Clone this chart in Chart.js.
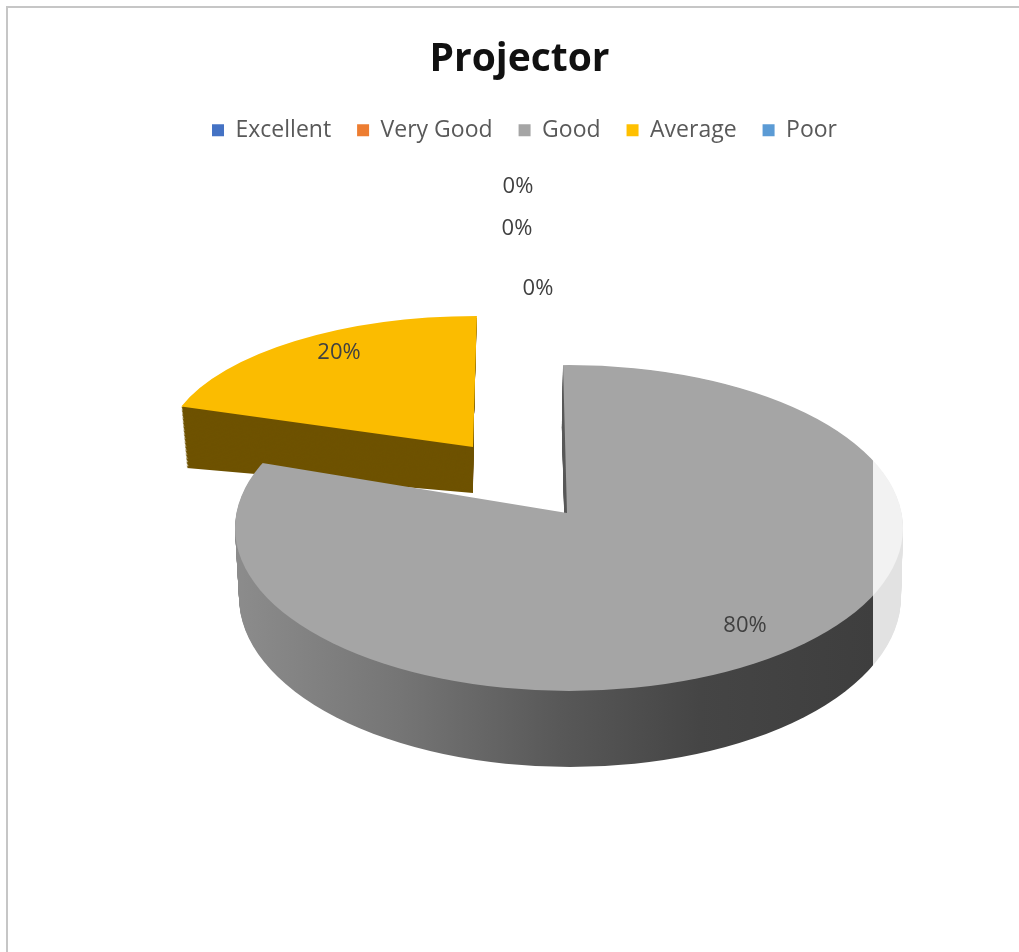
<!DOCTYPE html>
<html>
<head>
<meta charset="utf-8">
<title>Projector</title>
<script src="https://cdn.jsdelivr.net/npm/chart.js@4"></script>
<style>
  html, body { margin: 0; background: #fff; overflow: hidden; }
  #frame { position: absolute; left: 6px; top: 6px; width: 1013px; height: 946px;
           border-left: 2px solid #c6c6c6; border-top: 2px solid #c6c6c6; box-sizing: border-box; }
  canvas { position: absolute; left: 0; top: 0; }
</style>
</head>
<body>
<div id="frame"></div>
<canvas id="myChart" width="1019" height="952"></canvas>
<script>
'use strict';

const categories = ['Excellent', 'Very Good', 'Good', 'Average', 'Poor'];
const shares = [0, 0, 80, 20, 0];
const colors = ['#4472c4', '#ed7d31', '#a5a5a5', '#ffc000', '#5b9bd5'];

// where each percentage sits on the page (centre of the text)
const labelSpots = [[518, 187], [517, 229], [745, 626], [339, 353], [538, 289]];

// 3D look: each solid has a top and a bottom outline, walls are the layers in between
const goodTop = { apexX: 567, apexY: 513, sx: 400, sy: 203, lean: 0.027, rim: [569, 528, 334, 163] };
const goodBottom = { apexX: 566, apexY: 582, sx: 400, sy: 203, lean: 0.027, rim: [570, 597, 331, 170] };
const avgTop = { apexX: 473, apexY: 447, sx: 308, sy: 131, lean: -0.03 };
const avgBottom = { apexX: 473, apexY: 493, sx: 301, sy: 81, lean: 0 };

const goodFace = '#a5a5a5';
const avgFace = '#fbbc00';
const avgWall = '#6e5200';
const wallStops = [[235, '#8c8c8c'], [400, '#757575'], [560, '#585858'], [700, '#454545'], [873, '#3e3e3e']];

function mix(a, b, t) {
  return a + (b - a) * t;
}

function between(a, b, t) {
  const out = { apexX: mix(a.apexX, b.apexX, t), apexY: mix(a.apexY, b.apexY, t),
                sx: mix(a.sx, b.sx, t), sy: mix(a.sy, b.sy, t), lean: mix(a.lean, b.lean, t) };
  if (a.rim) out.rim = a.rim.map((v, i) => mix(v, b.rim[i], t));
  return out;
}

// draws one arc of the chart squashed onto the page, optionally cut by its rim ellipse
function paintArc(ctx, arc, shape, fill) {
  const R = arc.outerRadius;
  const a = shape.sx / R, d = shape.sy / R, c = shape.lean * d;
  ctx.save();
  if (shape.rim) {
    ctx.beginPath();
    ctx.ellipse(shape.rim[0], shape.rim[1], shape.rim[2], shape.rim[3], 0, 0, Math.PI * 2);
    ctx.clip();
  }
  ctx.translate(shape.apexX, shape.apexY);
  ctx.transform(a, 0, c, d, 0, 0);
  ctx.translate(-arc.x, -arc.y);
  let style = fill;
  if (Array.isArray(fill)) {
    // horizontal on the page, whatever the squash does
    const n = a * a + c * c;
    const at = (px) => (px - shape.apexX) / n;
    const x0 = fill[0][0], x1 = fill[fill.length - 1][0];
    style = ctx.createLinearGradient(arc.x + at(x0) * a, arc.y + at(x0) * c,
                                     arc.x + at(x1) * a, arc.y + at(x1) * c);
    fill.forEach(s => style.addColorStop((s[0] - x0) / (x1 - x0), s[1]));
  }
  const ghost = Object.create(arc);
  ghost.options = Object.assign({}, arc.options, { backgroundColor: style });
  ghost.draw(ctx);
  ctx.restore();
}

function paintSolid(ctx, arc, top, bottom, wall, face) {
  const steps = Math.ceil(bottom.apexY - top.apexY);
  for (let i = steps; i > 0; i--) {
    paintArc(ctx, arc, between(top, bottom, i / steps), wall);
  }
  paintArc(ctx, arc, top, face);
}

const pie3d = {
  id: 'pie3d',
  beforeDatasetsDraw(chart) {
    const ctx = chart.ctx;
    const arcs = chart.getDatasetMeta(0).data;
    paintSolid(ctx, arcs[3], avgTop, avgBottom, avgWall, avgFace);
    paintSolid(ctx, arcs[2], goodTop, goodBottom, wallStops, goodFace);

    // the washed out strip on the right edge of the screenshot
    ctx.fillStyle = 'rgba(255,255,255,0.85)';
    ctx.fillRect(873, 440, 40, 240);

    const total = shares.reduce((s, v) => s + v, 0);
    ctx.font = '22px "Open Sans"';
    ctx.fillStyle = '#404040';
    ctx.textAlign = 'center';
    ctx.textBaseline = 'middle';
    shares.forEach((v, i) => {
      ctx.fillText(Math.round(v / total * 100) + '%', labelSpots[i][0], labelSpots[i][1]);
    });
    return false;
  },
  afterLayout(chart) {
    chart.legend.left += 5;
    chart.legend.right += 5;
  }
};

const ctx = document.getElementById('myChart').getContext('2d');

const myChart = new Chart(ctx, {
  type: 'pie',
  data: {
    labels: categories,
    datasets: [{
      data: shares,
      backgroundColor: colors,
      borderWidth: 0
    }]
  },
  options: {
    responsive: false,
    animation: false,
    layout: { padding: { left: 20, top: 36 } },
    plugins: {
      tooltip: { enabled: false },
      title: {
        display: true,
        text: 'Projector',
        color: '#111',
        font: { family: '"Open Sans"', size: 39, weight: 'bold' },
        padding: { top: 0, bottom: 10 }
      },
      legend: {
        position: 'top',
        labels: {
          color: '#595959',
          font: { family: '"Open Sans"', size: 23 },
          boxWidth: 12,
          boxHeight: 12,
          padding: 26
        }
      }
    }
  },
  plugins: [pie3d]
});
</script>
</body>
</html>
